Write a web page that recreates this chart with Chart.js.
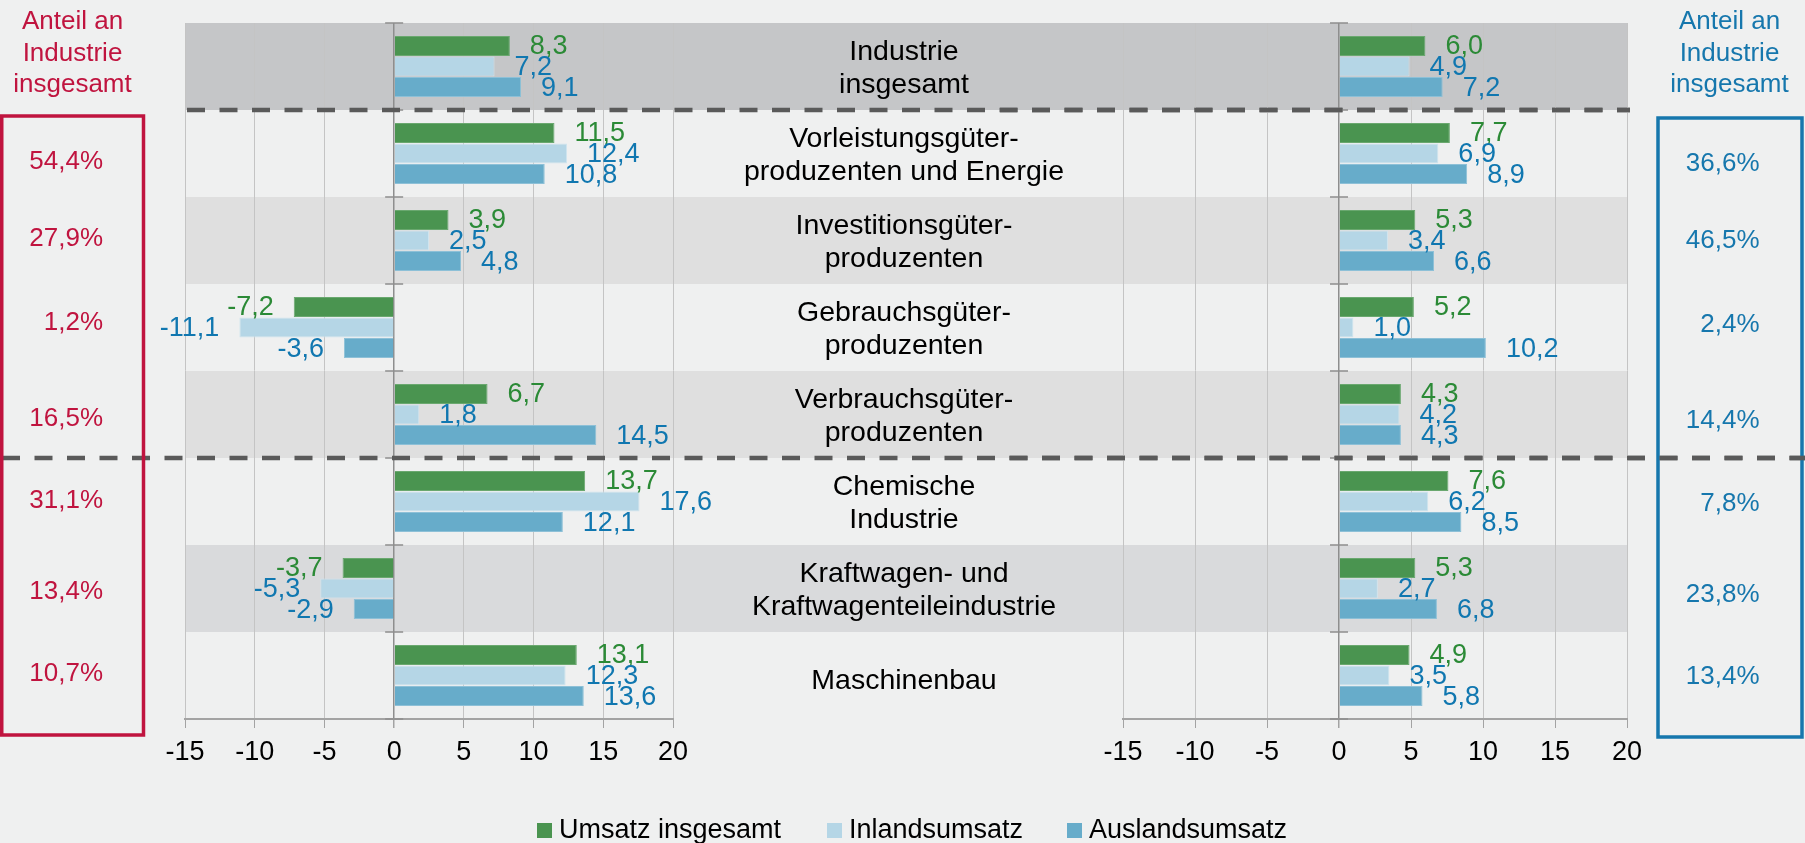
<!DOCTYPE html>
<html lang="de">
<head>
    <meta charset="UTF-8">
    <title>Umsatzentwicklung Industrie</title>
    <style>
        * {
            margin: 0;
            padding: 0;
            box-sizing: border-box;
        }

        body {
            background-color: #eff0f0;
            width: 1805px;
            height: 843px;
            overflow: hidden;
            position: relative;
            font-family: 'Liberation Sans', Arial, sans-serif;
        }

        canvas {
            position: absolute;
            top: 0;
        }

        #leftChart { left: 0; }
        #rightChart { left: 1000px; }

        /* Legend under both charts */
        .legend {
            position: absolute;
            top: 812px;
            left: 0;
            height: 34px;
            font-size: 27px;
            color: #000;
        }

        .legend .item {
            position: absolute;
            top: 0;
            white-space: nowrap;
            display: flex;
            align-items: center;
            height: 34px;
        }

        .legend .box {
            width: 15px;
            height: 15px;
            margin-right: 7px;
            margin-top: 2px;
        }
    </style>
</head>
<body>

<canvas id="leftChart" width="1805" height="843"></canvas>
<canvas id="rightChart" width="805" height="843"></canvas>
<div class="legend" id="legend"></div>

<script src="https://cdn.jsdelivr.net/npm/chart.js"></script>
<script>
    // ---- data ----
    const categories = [
        ['Industrie', 'insgesamt'],
        ['Vorleistungsgüter-', 'produzenten und Energie'],
        ['Investitionsgüter-', 'produzenten'],
        ['Gebrauchsgüter-', 'produzenten'],
        ['Verbrauchsgüter-', 'produzenten'],
        ['Chemische', 'Industrie'],
        ['Kraftwagen- und', 'Kraftwagenteileindustrie'],
        ['Maschinenbau']
    ];
    const seriesNames = ['Umsatz insgesamt', 'Inlandsumsatz', 'Auslandsumsatz'];

    const leftTotal    = [8.3, 11.5, 3.9, -7.2, 6.7, 13.7, -3.7, 13.1];
    const leftDomestic = [7.2, 12.4, 2.5, -11.1, 1.8, 17.6, -5.3, 12.3];
    const leftForeign  = [9.1, 10.8, 4.8, -3.6, 14.5, 12.1, -2.9, 13.6];

    const rightTotal    = [6.0, 7.7, 5.3, 5.2, 4.3, 7.6, 5.3, 4.9];
    const rightDomestic = [4.9, 6.9, 3.4, 1.0, 4.2, 6.2, 2.7, 3.5];
    const rightForeign  = [7.2, 8.9, 6.6, 10.2, 4.3, 8.5, 6.8, 5.8];

    const shareLeft  = [null, 54.4, 27.9, 1.2, 16.5, 31.1, 13.4, 10.7];
    const shareRight = [null, 36.6, 46.5, 2.4, 14.4, 7.8, 23.8, 13.4];
    const shareTitle = ['Anteil an', 'Industrie', 'insgesamt'];

    const xTicks = [-15, -10, -5, 0, 5, 10, 15, 20];

    // ---- styles / layout ----
    const FONT = '"Liberation Sans", Arial, sans-serif';
    const BAR_COLORS = ['#4a9450', '#b5d6e6', '#67acca'];
    const BAR_EDGES = ['#6aa86f', '#cfe4ee', '#8dc0d7'];
    const LABEL_COLORS = ['#2b8a36', '#1077b0', '#1077b0'];
    const BANDS = ['#c5c6c8', null, '#dfdfdf', null, '#dfdfdf', null, '#d9dadc', null];
    const CRIMSON = '#c0143f';
    const BLUE = '#1677ad';

    const H = 843;
    const PLOT_TOP = 23, PLOT_BOTTOM = 719;
    const TICK_LEN = 9, TICK_PAD = 8, TICK_FONT = 27;
    // chart.js x axis height: tick mark + label line + padding on both sides
    const X_AXIS_H = TICK_LEN + 2 * TICK_PAD + TICK_FONT * 1.2;
    const LEFT_AREA = { left: 185, right: 673 };
    const RIGHT_AREA = { left: 1123, right: 1627 };
    const RIGHT_OFFSET = 1000;
    const CENTER_X = 904;
    const DASHES = [
        { row: 1, from: 187, to: 1630 },
        { row: 5, from: 2, to: 1805 }
    ];
    // the share figures sit a little off the row centres in the original
    const SHARE_NUDGE_L = [0, 8.5, -1.5, -4.5, 4.5, -0.5, 3.5, -1.5];
    const SHARE_NUDGE_R = [0, 10.5, 0.5, -2.5, 6, 2.5, 6.5, 1.5];
    const LEGEND_X = [537, 827, 1067];

    Chart.defaults.font.family = FONT;
    Chart.defaults.font.size = 27;
    Chart.defaults.color = '#000';

    const fmt = v => v.toFixed(1).replace('.', ',');

    function rowGeometry(chart) {
        const area = chart.chartArea;
        return { top: area.top, h: (area.bottom - area.top) / categories.length };
    }

    // value labels next to bar ends
    const barLabels = {
        id: 'barLabels',
        afterDatasetsDraw(chart) {
            const ctx = chart.ctx;
            ctx.save();
            ctx.font = '27px ' + FONT;
            ctx.textBaseline = 'middle';
            chart.data.datasets.forEach((ds, di) => {
                chart.getDatasetMeta(di).data.forEach((bar, i) => {
                    const v = ds.data[i];
                    ctx.fillStyle = LABEL_COLORS[di];
                    ctx.textAlign = v < 0 ? 'right' : 'left';
                    ctx.fillText(fmt(v), bar.x + (v < 0 ? -20 : 20), bar.y + 1);
                });
            });
            ctx.restore();
        }
    };

    // small ticks on the zero line at row borders
    const zeroTicks = {
        id: 'zeroTicks',
        afterDatasetsDraw(chart) {
            const ctx = chart.ctx;
            const x0 = chart.scales.x.getPixelForValue(0);
            const g = rowGeometry(chart);
            ctx.save();
            ctx.strokeStyle = '#8e8e8e';
            ctx.lineWidth = 1.5;
            for (let i = 0; i <= categories.length; i++) {
                const y = g.top + i * g.h;
                ctx.beginPath();
                ctx.moveTo(x0 - 9, y);
                ctx.lineTo(x0 + 9, y);
                ctx.stroke();
            }
            ctx.restore();
        }
    };

    function drawDashes(chart, offsetX) {
        const ctx = chart.ctx;
        const g = rowGeometry(chart);
        ctx.save();
        ctx.translate(-offsetX, 0);
        ctx.setLineDash([18, 14.5]);
        ctx.strokeStyle = '#5a5a5a';
        ctx.lineWidth = 4.5;
        DASHES.forEach(d => {
            const y = g.top + d.row * g.h;
            ctx.beginPath();
            ctx.moveTo(d.from, y);
            ctx.lineTo(d.to, y);
            ctx.stroke();
        });
        ctx.restore();
    }

    // bands, row labels, share boxes (only on the left canvas, which spans the page)
    const decor = {
        id: 'decor',
        beforeDraw(chart) {
            const ctx = chart.ctx;
            const y = chart.scales.y;
            const g = rowGeometry(chart);
            ctx.save();
            categories.forEach((c, i) => {
                if (!BANDS[i]) return;
                ctx.fillStyle = BANDS[i];
                ctx.fillRect(LEFT_AREA.left, y.getPixelForValue(i) - g.h / 2,
                    RIGHT_AREA.right - LEFT_AREA.left, g.h);
            });
            ctx.restore();
        },
        afterDraw(chart) {
            const ctx = chart.ctx;
            const y = chart.scales.y;
            drawDashes(chart, 0);

            ctx.save();
            // category names in the middle
            ctx.fillStyle = '#000';
            ctx.font = '28.5px ' + FONT;
            ctx.textAlign = 'center';
            ctx.textBaseline = 'middle';
            categories.forEach((lines, i) => {
                const cy = y.getPixelForValue(i) + (lines.length > 1 ? 2.5 : 5.5);
                lines.forEach((t, k) => {
                    ctx.fillText(t, CENTER_X, cy + (k - (lines.length - 1) / 2) * 33);
                });
            });

            // headers above the share boxes
            ctx.font = '26px ' + FONT;
            ctx.textBaseline = 'alphabetic';
            shareTitle.forEach((t, k) => {
                ctx.fillStyle = CRIMSON;
                ctx.fillText(t, 72.5, 29 + k * 31.5);
                ctx.fillStyle = BLUE;
                ctx.fillText(t, 1729.5, 29 + k * 31.5);
            });

            // boxes
            ctx.lineWidth = 3.5;
            ctx.strokeStyle = CRIMSON;
            ctx.strokeRect(1.75, 116, 141.75, 619);
            ctx.strokeStyle = BLUE;
            ctx.strokeRect(1658, 118, 144, 619);

            // shares
            ctx.textAlign = 'right';
            ctx.textBaseline = 'middle';
            categories.forEach((c, i) => {
                const cy = y.getPixelForValue(i);
                if (shareLeft[i] !== null) {
                    ctx.fillStyle = CRIMSON;
                    ctx.fillText(fmt(shareLeft[i]) + '%', 103, cy + SHARE_NUDGE_L[i]);
                }
                if (shareRight[i] !== null) {
                    ctx.fillStyle = BLUE;
                    ctx.fillText(fmt(shareRight[i]) + '%', 1759.5, cy + SHARE_NUDGE_R[i]);
                }
            });
            ctx.restore();
        }
    };

    const rightOverlay = {
        id: 'rightOverlay',
        afterDraw(chart) {
            drawDashes(chart, RIGHT_OFFSET);
        }
    };

    function makeChart(id, values, area, offsetX, extraPlugins) {
        const canvas = document.getElementById(id);
        return new Chart(canvas, {
            type: 'bar',
            data: {
                labels: categories,
                datasets: seriesNames.map((name, i) => ({
                    label: name,
                    data: values[i],
                    backgroundColor: BAR_COLORS[i],
                    borderColor: BAR_EDGES[i],
                    borderWidth: 1,
                    categoryPercentage: 0.71,
                    barPercentage: 0.97
                }))
            },
            options: {
                indexAxis: 'y',
                responsive: false,
                animation: false,
                layout: {
                    padding: {
                        left: area.left - offsetX,
                        right: canvas.width - (area.right - offsetX),
                        top: PLOT_TOP,
                        bottom: H - PLOT_BOTTOM - X_AXIS_H
                    }
                },
                plugins: {
                    legend: { display: false },
                    tooltip: { enabled: false }
                },
                scales: {
                    x: {
                        min: -15,
                        max: 20,
                        afterBuildTicks: s => { s.ticks = xTicks.map(v => ({ value: v })); },
                        grid: {
                            color: c => (c.tick && c.tick.value === 0) ? '#8e8e8e' : '#c4c4c4',
                            lineWidth: c => (c.tick && c.tick.value === 0) ? 1.5 : 1,
                            tickLength: TICK_LEN,
                            tickColor: '#a3a3a3'
                        },
                        border: { color: '#a3a3a3', width: 2 },
                        ticks: {
                            padding: TICK_PAD,
                            color: '#000',
                            font: { size: TICK_FONT },
                            callback: v => String(v)
                        }
                    },
                    y: { display: false }
                }
            },
            plugins: [barLabels, zeroTicks].concat(extraPlugins)
        });
    }

    makeChart('leftChart', [leftTotal, leftDomestic, leftForeign], LEFT_AREA, 0, [decor]);
    makeChart('rightChart', [rightTotal, rightDomestic, rightForeign], RIGHT_AREA, RIGHT_OFFSET, [rightOverlay]);

    // legend
    const legend = document.getElementById('legend');
    seriesNames.forEach((name, i) => {
        const item = document.createElement('div');
        item.className = 'item';
        item.style.left = LEGEND_X[i] + 'px';
        item.innerHTML = '<span class="box" style="background:' + BAR_COLORS[i] + '"></span>' + name;
        legend.appendChild(item);
    });
</script>

</body>
</html>
